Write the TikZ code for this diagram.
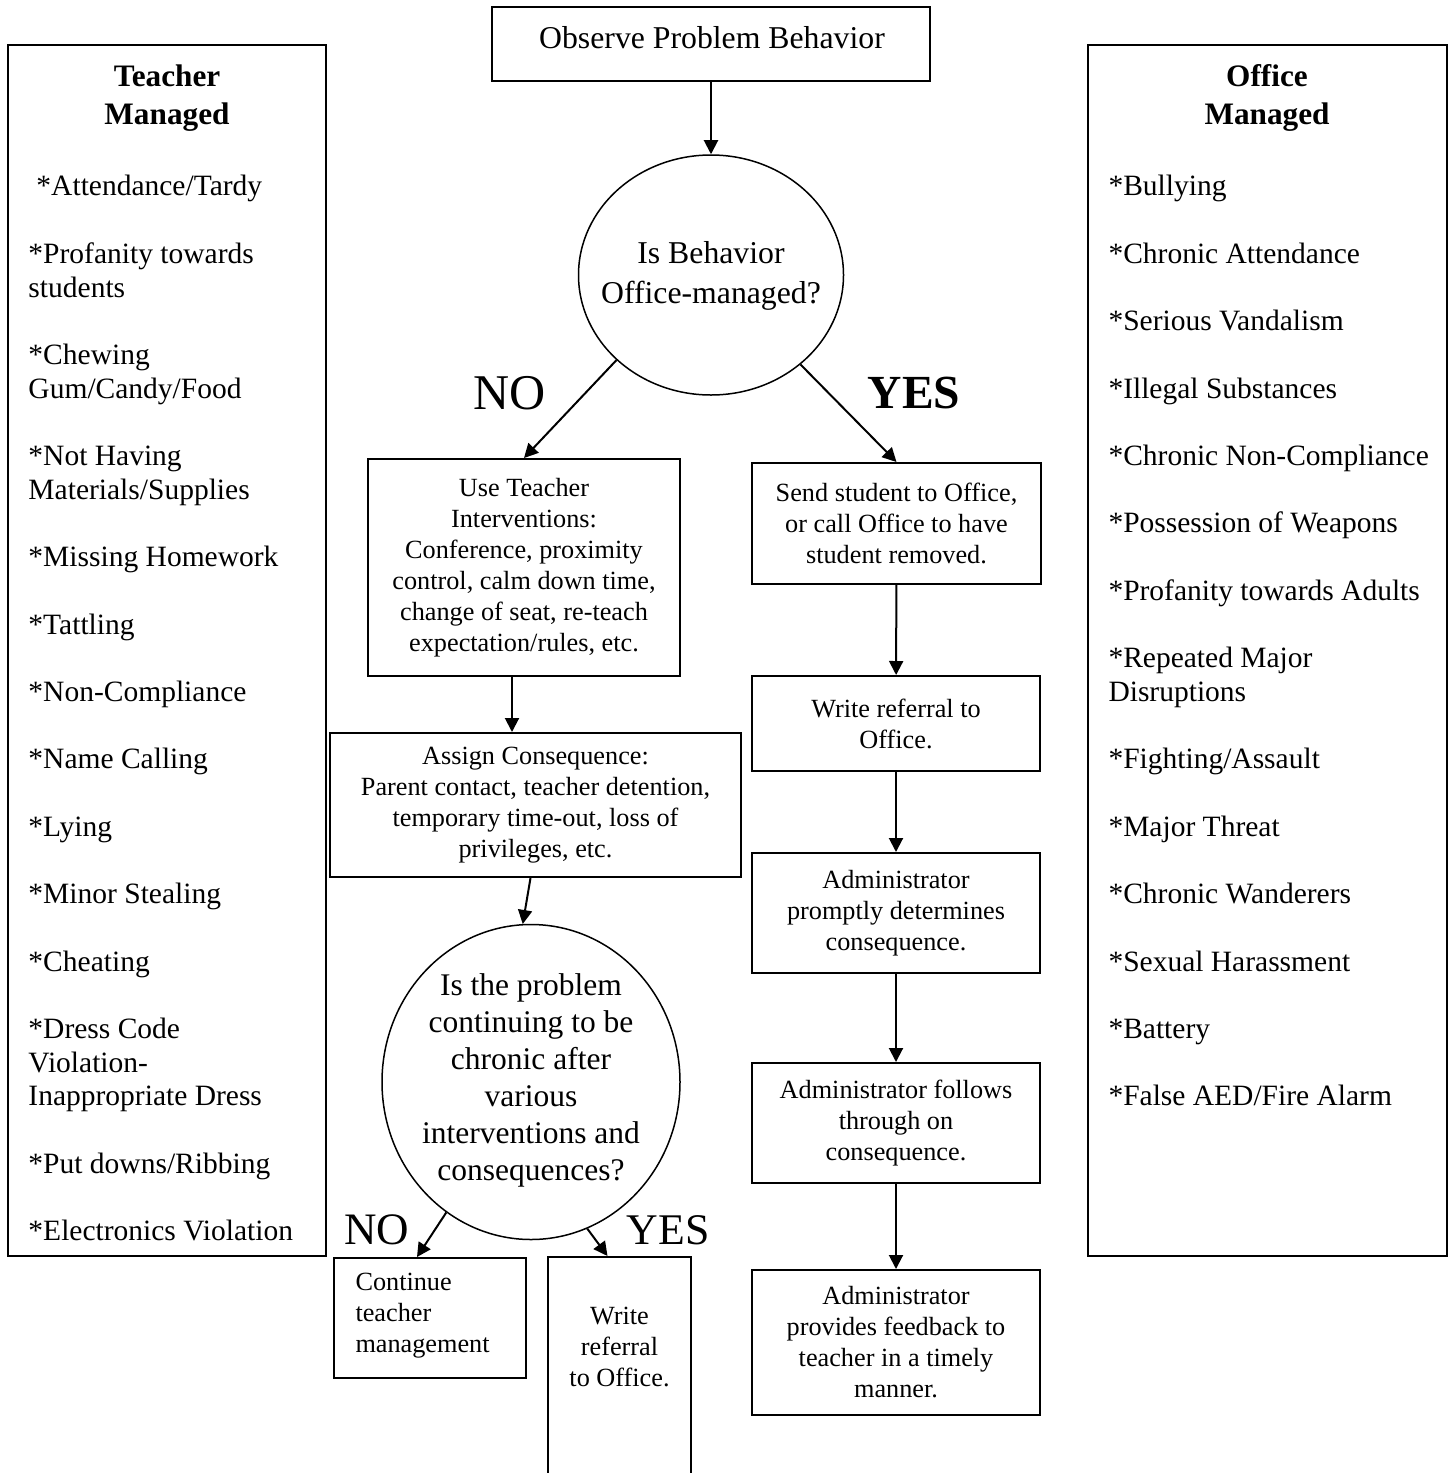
\documentclass[tikz,border=0pt]{standalone}
\usepackage{fontspec}
\setmainfont{Liberation Serif}
\usetikzlibrary{shapes,arrows.meta,calc,positioning,shapes.geometric}
\tikzset{
>={Triangle[length=5.6pt,width=5.6pt]},
  procbox/.style={
    rectangle,
    draw=black, line width=0.8pt,
    inner sep=0pt,
    align=center,
    font=\fontsize{10.5}{12.4}\selectfont},
  question/.style={
    ellipse,
    draw=black, line width=0.6pt,
    inner sep=0pt},
  panel/.style={
    rectangle,
    draw=black, line width=0.8pt,
    inner sep=0pt},
  itemlist/.style={
    align=left, inner sep=0pt, anchor=north west,
    font=\fontsize{11.8}{13.48}\selectfont},
  header/.style={
    align=center, inner sep=0pt, anchor=north,
    font=\fontsize{12.5}{15.2}\selectfont\bfseries},
}

\begin{document}
\begin{tikzpicture}[
    x=0.4pt, y=-0.4pt,
    flow/.style={line width=0.8pt, ->},
    qtext/.style={align=center, inner sep=0pt},
    answer/.style={inner sep=0pt, font=\fontsize{20}{24}\selectfont},
    smallanswer/.style={inner sep=0pt, font=\fontsize{18}{22}\selectfont}
    ]

	\useasboundingbox (0,0) rectangle (1455,1473);
	\clip (0,0) rectangle (1455,1473);

	% side lists
	\node[panel, minimum width=127.2pt, minimum height=484.4pt] (tmbox) at (167,650.5) {};
	\node[header] (tmhead) at (167,64) {Teacher\\Managed};
	\node[itemlist] (tmlist) at (28,175) {\hspace*{3.2pt}*Attendance/Tardy\\[13.48pt]
	*Profanity towards\\students\\[13.48pt]
	*Chewing\\Gum/Candy/Food\\[13.48pt]
	*Not Having\\Materials/Supplies\\[13.48pt]
	*Missing Homework\\[13.48pt]
	*Tattling\\[13.48pt]
	*Non-Compliance\\[13.48pt]
	*Name Calling\\[13.48pt]
	*Lying\\[13.48pt]
	*Minor Stealing\\[13.48pt]
	*Cheating\\[13.48pt]
	*Dress Code\\Violation-\\Inappropriate Dress\\[13.48pt]
	*Put downs/Ribbing\\[13.48pt]
	*Electronics Violation};

	\node[panel, minimum width=143.6pt, minimum height=484.4pt] (ombox) at (1267.5,650.5) {};
	\node[header] (omhead) at (1267,64) {Office\\Managed};
	\node[itemlist] (omlist) at (1108,175) {*Bullying\\[13.48pt]
	*Chronic Attendance\\[13.48pt]
	*Serious Vandalism\\[13.48pt]
	*Illegal Substances\\[13.48pt]
	*Chronic Non-Compliance\\[13.48pt]
	*Possession of Weapons\\[13.48pt]
	*Profanity towards Adults\\[13.48pt]
	*Repeated Major\\Disruptions\\[13.48pt]
	*Fighting/Assault\\[13.48pt]
	*Major Threat\\[13.48pt]
	*Chronic Wanderers\\[13.48pt]
	*Sexual Harassment\\[13.48pt]
	*Battery\\[13.48pt]
	*False AED/Fire Alarm};

	% top of the chart
	\node[procbox, minimum width=175.2pt, minimum height=29.6pt] (observe) at (711,44) {};
	\node[qtext, font=\fontsize{12.7}{15}\selectfont] (observetxt) at (712,38) {Observe Problem Behavior};

	\node[question, minimum width=106pt, minimum height=96pt] (qoffice) at (711,275) {};
	\node[qtext, font=\fontsize{12.7}{16}\selectfont] (qofficetxt) at (711,276) {Is Behavior\\Office-managed?};

	\node[answer] (no1) at (510,393) {NO};
	\node[answer, font=\fontsize{19}{23}\selectfont\bfseries] (yes1) at (914,393) {YES};

	% teacher side
	\node[procbox, minimum width=124.8pt, minimum height=86.8pt] (useint) at (524,567.5) {Use Teacher\\Interventions:\\Conference, proximity\\control, calm down time,\\change of seat, re-teach\\expectation/rules, etc.};
	\node[procbox, minimum width=164.4pt, minimum height=57.6pt] (assign) at (535.5,805) {Assign Consequence:\\Parent contact, teacher detention,\\temporary time-out, loss of\\privileges, etc.};

	\node[question, minimum width=119.2pt, minimum height=126pt] (qchronic) at (531,1082) {};
	\node[qtext, font=\fontsize{12.6}{14.8}\selectfont] (qchronictxt) at (531,1080) {Is the problem\\continuing to be\\chronic after\\various\\interventions and\\consequences?};

	\node[smallanswer] (no2) at (377,1230) {NO};
	\node[smallanswer, font=\fontsize{17.5}{21}\selectfont] (yes2) at (668,1230) {YES};

	\node[procbox, minimum width=76.8pt, minimum height=48pt] (cont) at (430,1318) {};
	\node[qtext, align=left, anchor=west, font=\fontsize{10.5}{12.4}\selectfont] (conttxt) at (355,1316) {Continue\\teacher\\management};
	\node[panel, minimum width=57.2pt, minimum height=90.4pt] (refer2) at (619.5,1370) {};
	\node[qtext, font=\fontsize{10.5}{12.4}\selectfont] (refer2txt) at (619.5,1347) {Write\\referral\\to Office.};

	% office side
	\node[procbox, minimum width=115.6pt, minimum height=48.4pt] (send) at (896.5,523.5) {Send student to Office,\\or call Office to have\\student removed.};
	\node[procbox, minimum width=115.2pt, minimum height=38pt] (refer) at (896,723.5) {Write referral to\\Office.};
	\node[procbox, minimum width=115.2pt, minimum height=48pt] (determ) at (896,913) {Administrator\\promptly determines\\consequence.};
	\node[procbox, minimum width=115.2pt, minimum height=48pt] (follow) at (896,1123) {Administrator follows\\through on\\consequence.};
	\node[procbox, minimum width=115.2pt, minimum height=58pt] (feedback) at (896,1342.5) {Administrator\\provides feedback to\\teacher in a timely\\manner.};

	\draw[flow] (observe) -- (qoffice);
	\draw[flow] (qoffice.-138) -- (useint.north);
	\draw[flow] (qoffice.-45) -- (send.north);

	\draw[flow] ($(useint.south)+(-12,0)$) -- ($(assign.north)+(-23.5,0)$);
	\draw[flow] ($(assign.south)+(-5,0)$) -- (qchronic.93);
	\draw[flow] (qchronic.-123) -- ($(cont.north)+(-13,0)$);
	\draw[flow] (qchronic.-69) -- ($(refer2.north)+(-12,0)$);

	\draw[flow] (send) -- (refer);
	\draw[flow] (refer) -- (determ);
	\draw[flow] (determ) -- (follow);
	\draw[flow] (follow) -- (feedback);

\end{tikzpicture}
\end{document}
